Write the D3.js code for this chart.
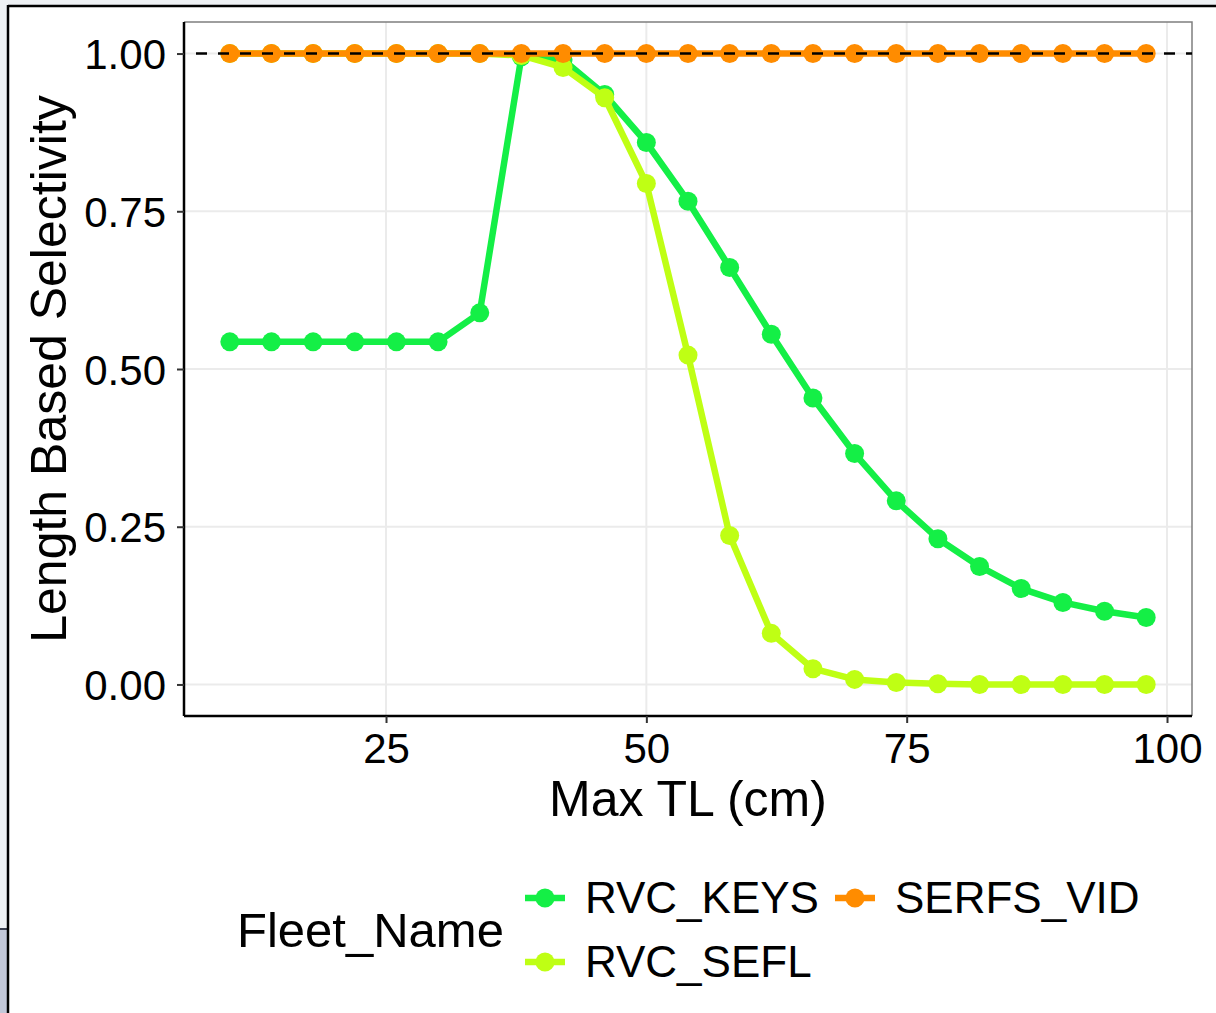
<!DOCTYPE html>
<html>
<head>
<meta charset="utf-8">
<script src="https://cdn.jsdelivr.net/npm/d3@7"></script>
<style>
  html, body { margin: 0; padding: 0; background: #fff; }
  svg { display: block; font-family: "Liberation Sans", Arial, sans-serif; }
</style>
</head>
<body>
<svg id="chart" width="1216" height="1013"></svg>
<script>
// data
var lengths = [10, 14, 18, 22, 26, 30, 34, 38, 42, 46, 50, 54, 58, 62, 66, 70, 74, 78, 82, 86, 90, 94, 98];
var fleets = ["RVC_KEYS", "RVC_SEFL", "SERFS_VID"];
var rvcKeys = [0.543, 0.543, 0.543, 0.543, 0.543, 0.543, 0.589, 0.995, 0.99, 0.935, 0.859, 0.766, 0.661, 0.555, 0.454, 0.366, 0.291, 0.231, 0.187, 0.152, 0.130, 0.116, 0.106];
var rvcSefl = [1, 1, 1, 1, 1, 1, 1, 0.997, 0.978, 0.930, 0.794, 0.522, 0.236, 0.081, 0.025, 0.008, 0.003, 0.001, 0, 0, 0, 0, 0];
var serfsVid = [1, 1, 1, 1, 1, 1, 1, 1, 1, 1, 1, 1, 1, 1, 1, 1, 1, 1, 1, 1, 1, 1, 1];
var xTicks = [25, 50, 75, 100];
var yTicks = [0, 0.25, 0.5, 0.75, 1];
var colors = ["#14ef46", "#bfff14", "#ff8c00"];

var series = [rvcKeys, rvcSefl, serfsVid].map(function(v, i) {
  return {name: fleets[i], color: colors[i], pts: v.map(function(y, j) { return {x: lengths[j], y: y}; })};
});

var svg = d3.select("#chart");

// screenshot frame around the plot
svg.append("rect").attr("x", 0).attr("y", 0).attr("width", 1216).attr("height", 5).attr("fill", "#eef1f4");
svg.append("rect").attr("x", 0).attr("y", 0).attr("width", 7).attr("height", 1013).attr("fill", "#eef1f4");
svg.append("rect").attr("x", 0).attr("y", 929).attr("width", 7).attr("height", 84).attr("fill", "#c2c7d8");
svg.append("line").attr("x1", 0).attr("x2", 7).attr("y1", 929).attr("y2", 929).attr("stroke", "#3c4150").attr("stroke-width", 2);
svg.append("line").attr("x1", 8).attr("x2", 1216).attr("y1", 6).attr("y2", 6).attr("stroke", "#000").attr("stroke-width", 2.5);
svg.append("line").attr("x1", 8).attr("x2", 8).attr("y1", 5).attr("y2", 1013).attr("stroke", "#000").attr("stroke-width", 2.5);

// panel edges
var pL = 184, pR = 1192, pT = 22, pB = 716;

var x = d3.scaleLinear().domain([5.6, 102.4]).range([pL, pR]);
var y = d3.scaleLinear().domain([-0.05, 1.05]).range([pB, pT]);

// grid
svg.append("g").selectAll("line").data(xTicks).enter().append("line")
  .attr("x1", x).attr("x2", x).attr("y1", pT).attr("y2", pB)
  .attr("stroke", "#ebebeb").attr("stroke-width", 2);
svg.append("g").selectAll("line").data(yTicks).enter().append("line")
  .attr("x1", pL).attr("x2", pR).attr("y1", y).attr("y2", y)
  .attr("stroke", "#ebebeb").attr("stroke-width", 2);

// panel border (top/right grey)
svg.append("path")
  .attr("d", "M" + pL + "," + pT + "H" + pR + "V" + pB)
  .attr("fill", "none").attr("stroke", "#7f7f7f").attr("stroke-width", 1.5);

// series
var line = d3.line().x(function(d) { return x(d.x); }).y(function(d) { return y(d.y); });
var g = svg.append("g");
series.forEach(function(s) {
  g.append("path").datum(s.pts).attr("d", line)
    .attr("fill", "none").attr("stroke", s.color).attr("stroke-width", 6.5)
    .attr("stroke-linejoin", "round");
  g.selectAll(null).data(s.pts).enter().append("circle")
    .attr("cx", function(d) { return x(d.x); })
    .attr("cy", function(d) { return y(d.y); })
    .attr("r", 9.5).attr("fill", s.color);
});

// dashed reference line at 1
svg.append("line")
  .attr("x1", pL).attr("x2", pR).attr("y1", y(1)).attr("y2", y(1))
  .attr("stroke", "#000").attr("stroke-width", 2.5)
  .attr("stroke-dasharray", "11 11").attr("stroke-dashoffset", -12);

// axes
var xAxis = d3.axisBottom(x).tickValues(xTicks).tickSize(7).tickPadding(10).tickFormat(d3.format("d"));
var yAxis = d3.axisLeft(y).tickValues(yTicks).tickSize(7).tickPadding(11).tickFormat(d3.format(".2f"));

var gx = svg.append("g").attr("transform", "translate(0," + pB + ")").call(xAxis);
var gy = svg.append("g").attr("transform", "translate(" + pL + ",0)").call(yAxis);
[gx, gy].forEach(function(a) {
  a.select(".domain").attr("stroke", "#000").attr("stroke-width", 2.5);
  a.selectAll(".tick line").attr("stroke", "#333").attr("stroke-width", 2);
  a.selectAll(".tick text").attr("fill", "#000").style("font-size", "42px");
});
gx.select(".domain").attr("d", "M" + pL + ",0H" + pR);
gy.select(".domain").attr("d", "M0," + pT + "V" + pB);
gy.selectAll(".tick text").attr("dy", "0.36em");

// axis titles
svg.append("text").attr("x", (pL + pR) / 2).attr("y", 816)
  .attr("text-anchor", "middle").style("font-size", "50px").text("Max TL (cm)");
svg.append("text").attr("transform", "translate(66," + ((pT + pB) / 2) + ") rotate(-90)")
  .attr("text-anchor", "middle").style("font-size", "50px").text("Length Based Selectivity");

// legend
var leg = svg.append("g");
leg.append("text").attr("x", 237).attr("y", 947).style("font-size", "49px").text("Fleet_Name");
var keyPos = [{kx: 525, ky: 898}, {kx: 525, ky: 962}, {kx: 835, ky: 898}];
series.forEach(function(s, i) {
  var p = keyPos[i];
  leg.append("line").attr("x1", p.kx).attr("x2", p.kx + 40).attr("y1", p.ky).attr("y2", p.ky)
    .attr("stroke", s.color).attr("stroke-width", 6.5);
  leg.append("circle").attr("cx", p.kx + 20).attr("cy", p.ky).attr("r", 9.5).attr("fill", s.color);
  leg.append("text").attr("x", p.kx + 60).attr("y", p.ky + 15).style("font-size", "44px").text(s.name);
});
</script>
</body>
</html>
